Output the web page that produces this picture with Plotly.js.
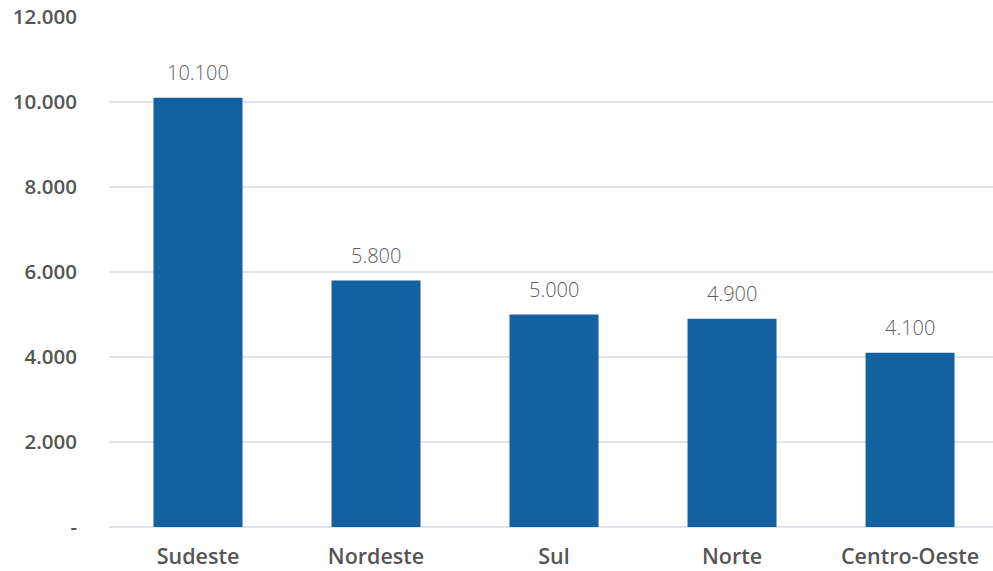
<!DOCTYPE html>
<html>
<head>
<meta charset="utf-8">
<script src="https://cdn.plot.ly/plotly-3.0.1.min.js"></script>
<style>html,body{margin:0;padding:0;background:#fff;}#chart{width:993px;height:571px;}</style>
</head>
<body>
<div id="chart"></div>
<script>
const categories = ["Sudeste", "Nordeste", "Sul", "Norte", "Centro-Oeste"];
const values = [10100, 5800, 5000, 4900, 4100];
const yTickVals = [0, 2000, 4000, 6000, 8000, 10000, 12000];
const yTickText = ["-", "2.000", "4.000", "6.000", "8.000", "10.000", "12.000"];

function fmt(v) {
  return String(Math.round(v)).replace(/\B(?=(\d{3})+(?!\d))/g, ".");
}

const trace = {
  type: "bar",
  x: categories,
  y: values,
  marker: {color: "#1461A1", line: {width: 0}},
  hoverinfo: "none"
};

const annotations = categories.map((c, i) => ({
  x: c, y: values[i], xref: "x", yref: "y",
  text: fmt(values[i]), showarrow: false,
  yanchor: "bottom", yshift: 10,
  font: {family: "Open Sans, sans-serif", size: 20, color: "#606060", weight: 300}
}));

const layout = {
  width: 993, height: 571,
  margin: {l: 109, r: 0, t: 17, b: 44},
  paper_bgcolor: "#ffffff", plot_bgcolor: "#ffffff",
  bargap: 0.5,
  showlegend: false,
  xaxis: {
    type: "category",
    range: [-0.5, 4.466],
    showgrid: false, zeroline: false, showline: false,
    ticks: "",
    tickfont: {family: "Open Sans, sans-serif", size: 21.5, color: "#555555", weight: 600},
    ticklabelstandoff: 14
  },
  yaxis: {
    range: [0, 12000],
    tickmode: "array", tickvals: yTickVals, ticktext: yTickText,
    showgrid: true, gridcolor: "#dfe3ea", gridwidth: 1.5,
    zeroline: true, zerolinecolor: "#dfe3ea", zerolinewidth: 1.5,
    showline: false, ticks: "",
    tickfont: {family: "Open Sans, sans-serif", size: 20.5, color: "#555555", weight: 600},
    ticklabelstandoff: 31
  },
  annotations: annotations
};

Plotly.newPlot("chart", [trace], layout, {displayModeBar: false, staticPlot: true});
</script>
</body>
</html>
